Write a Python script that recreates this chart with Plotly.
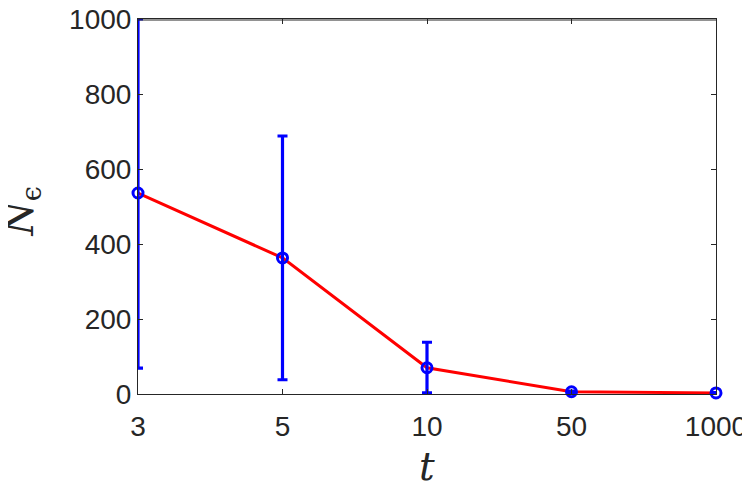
import plotly.graph_objects as go

t_labels = ["3", "5", "10", "50", "1000"]
n_mean = [536, 363, 70, 6, 3]
err_upper = [1000, 688, 138, 8, 4]
err_lower = [69, 38, 3, 4, 2]

plus = [u - m for u, m in zip(err_upper, n_mean)]
minus = [m - l for m, l in zip(n_mean, err_lower)]

fig = go.Figure()
fig.add_trace(go.Scatter(
    x=t_labels, y=n_mean, mode="lines",
    line=dict(color="#ff0000", width=3), hoverinfo="skip", cliponaxis=False))
fig.add_trace(go.Scatter(
    x=t_labels, y=n_mean, mode="markers",
    marker=dict(symbol="circle-open", size=10, color="#0000ff", line=dict(width=3, color="#0000ff")),
    error_y=dict(type="data", symmetric=False, array=plus, arrayminus=minus,
                 color="#0000ff", thickness=3.2, width=5),
    cliponaxis=False))

axis_common = dict(showline=True, linecolor="#262626", linewidth=1, mirror="ticks",
                   ticks="inside", ticklen=5, tickcolor="#262626", showgrid=False, zeroline=False,
                   automargin=False, ticklabeloverflow="allow",
                   tickfont=dict(family="Liberation Sans, Arial, sans-serif", size=28, color="#262626"))

# the page body has an 8px margin, so the figure is sized/placed to compensate
W, H = 742, 492
L, R, T, B = 130, 34, 11, 106
PW, PH = W - L - R, H - T - B

fig.update_layout(
    width=W, height=H,
    margin=dict(l=L, r=R, t=T, b=B),
    paper_bgcolor="white", plot_bgcolor="white",
    showlegend=False,
    xaxis=dict(type="category", range=[0, 4], ticklabelstandoff=7, **axis_common),
    yaxis=dict(range=[0, 1000], dtick=200, **axis_common),
    shapes=[dict(type="line", xref="paper", yref="paper", x0=0, x1=1,
                 y0=1 - 1.0 / PH, y1=1 - 1.0 / PH,
                 line=dict(color="#262626", width=1.2), layer="above")],
    annotations=[
        dict(text="<i>t</i>", xref="paper", yref="paper", x=0.5, y=-73 / PH,
             xanchor="center", yanchor="middle", showarrow=False,
             font=dict(family="DejaVu Serif, serif", size=39, color="#262626")),
        dict(text="<i>N</i><sub>ϵ</sub>", xref="paper", yref="paper", x=(14 - L) / PW, y=0.487,
             xanchor="center", yanchor="middle", textangle=-90, showarrow=False,
             font=dict(family="DejaVu Serif, serif", size=39, color="#262626")),
    ],
)

fig.write_html("out.html")
